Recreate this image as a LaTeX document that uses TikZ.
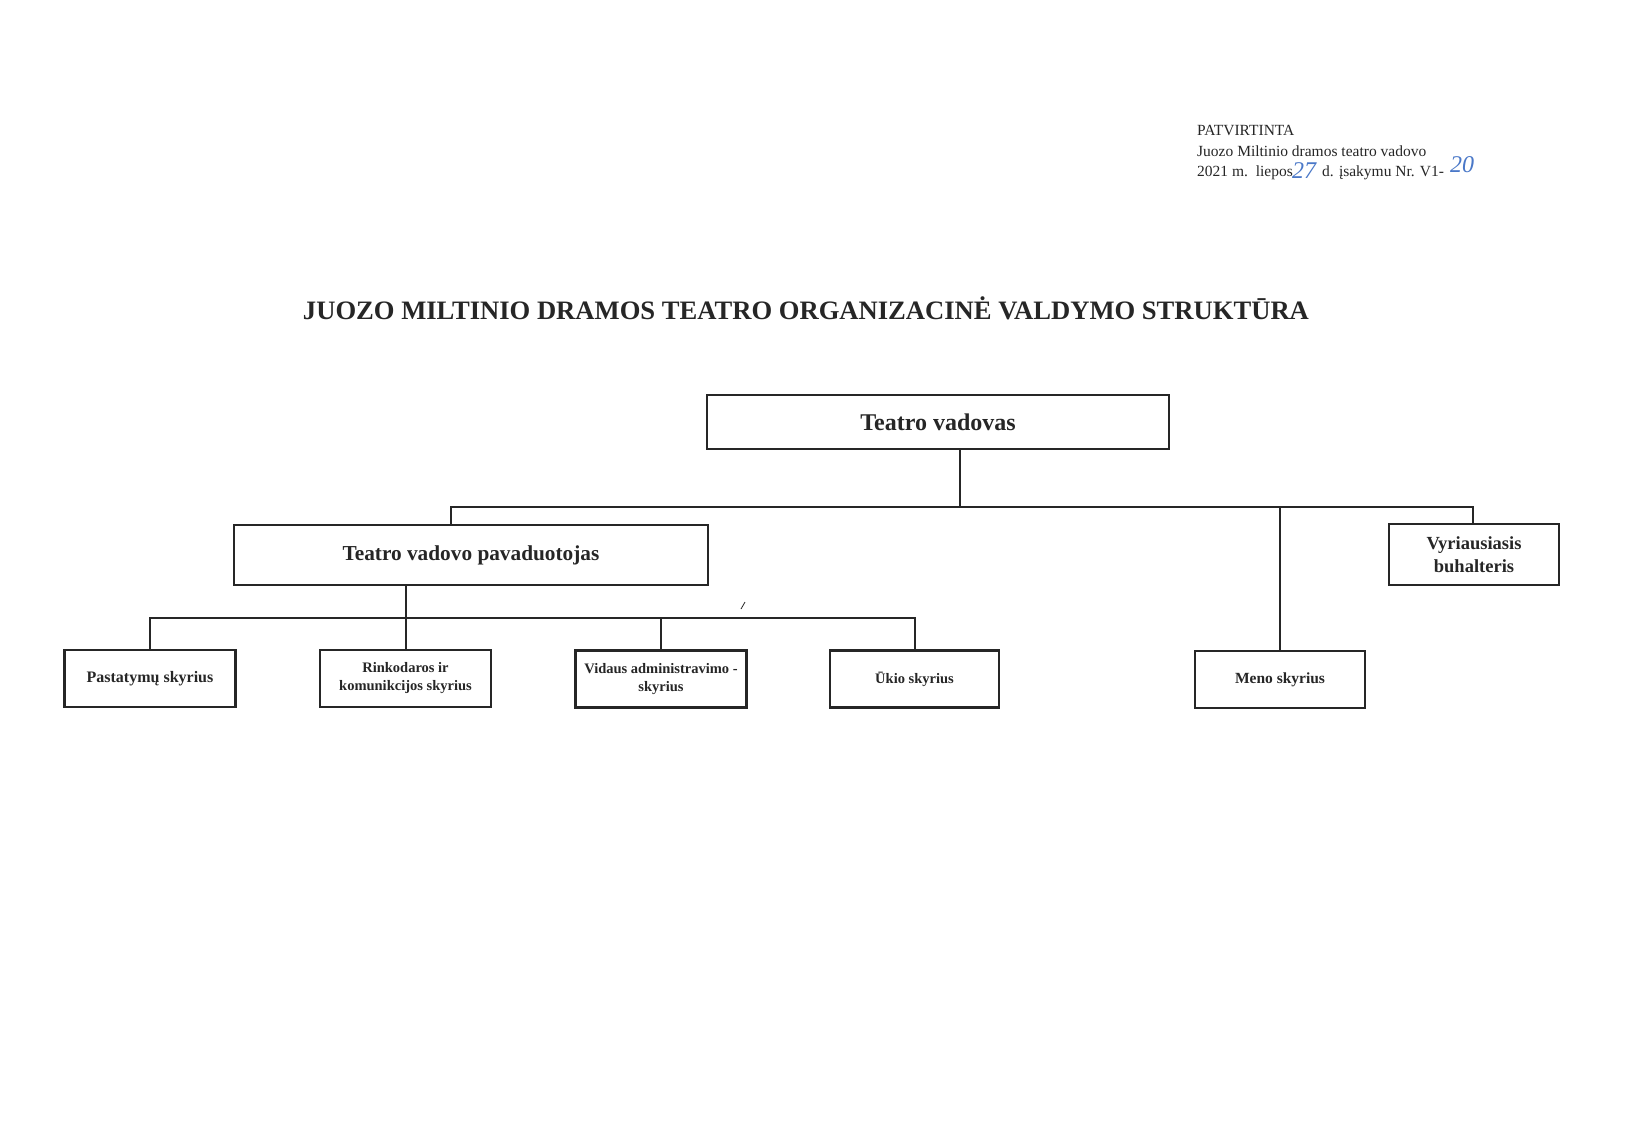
\documentclass[tikz,border=0pt]{standalone}
\usepackage{fontspec}
\setmainfont{Liberation Serif}
\definecolor{ink}{HTML}{262626}
\definecolor{penblue}{HTML}{4A78C8}
\tikzset{
  orgbox/.style={draw=ink, line width=2.8pt, fill=white, inner sep=0pt, align=center, text=ink},
  bigbox/.style={orgbox, font=\fontsize{24}{26}\selectfont\bfseries},
  midbox/.style={orgbox, font=\fontsize{18}{22}\selectfont\bfseries},
  smallbox/.style={orgbox, minimum width=171pt, minimum height=57pt, font=\fontsize{14.5}{18}\selectfont\bfseries},
  link/.style={draw=ink, line width=2pt},
  hdr/.style={anchor=base west, inner sep=0pt, font=\fontsize{15.5}{18}\selectfont, text=ink},
  hand/.style={anchor=base, inner sep=0pt, font=\fontsize{24}{24}\selectfont\itshape, text=penblue}
}
\begin{document}
\begin{tikzpicture}[x=1pt,y=-1pt]
\useasboundingbox[fill=white] (0,0) rectangle (1644,1146);

% header
\node[hdr] (hdr1) at (1197,135) {PATVIRTINTA};
\node[hdr] (hdr2) at (1197,156) {Juozo Miltinio dramos teatro vadovo};
\node[hdr] (hdr3a) at (1197,176) {2021 m.\ \ liepos};
\node[hand] (hw1) at (1304,178) {27};
\node[hdr] (hdr3b) at (1322,176) {d. įsakymu Nr. V1-};
\node[hand] (hw2) at (1462,172) {20};

% title
\node[anchor=base, inner sep=0pt, font=\fontsize{26.6}{30}\selectfont\bfseries, text=ink] (title) at (806,319.5)
  {JUOZO MILTINIO DRAMOS TEATRO ORGANIZACINĖ VALDYMO STRUKTŪRA};

% boxes
\node[bigbox, minimum width=462pt, minimum height=54pt] (vad) at (938,422) {Teatro vadovas};
\node[orgbox, minimum width=474pt, minimum height=60pt, font=\fontsize{21.3}{24}\selectfont\bfseries] (pav) at (471,555) {Teatro vadovo pavaduotojas};
\node[midbox, minimum width=170pt, minimum height=61pt, font=\fontsize{18.5}{23}\selectfont\bfseries] (vyr) at (1474,554.5) {Vyriausiasis\\buhalteris};
\node[smallbox, font=\fontsize{16}{19}\selectfont\bfseries] (past) at (150,678.5) {Pastatymų skyrius};
\node[smallbox] (rink) at (405.5,678.5) {Rinkodaros ir\\komunikcijos skyrius};
\node[smallbox] (vid) at (661,679) {Vidaus administravimo -\\skyrius};
\node[smallbox, minimum width=169pt] (ukio) at (914.5,679) {Ūkio skyrius};
\node[smallbox, minimum width=170pt, font=\fontsize{15.5}{19}\selectfont\bfseries] (meno) at (1280,679.5) {Meno skyrius};

% bus coordinates
\coordinate (j1) at (960,507);
\coordinate (b1l) at (451,507);
\coordinate (b1r) at (1473,507);
\coordinate (bus2) at (0,617.5);

% connectors
\draw[link] (vad.south -| j1) -- (j1);
\draw[link] (pav.north -| b1l) -- (b1l) -- (b1r) -- (vyr.north -| b1r);
\draw[link] (j1 -| meno.north) -- (meno.north);
\draw[link] (pav.south -| rink.north) -- (rink.north);
\draw[link] (past.north) -- (past.north |- bus2) -- (ukio.north |- bus2) -- (ukio.north);
\draw[link] (vid.north |- bus2) -- (vid.north);

% stray mark
\coordinate (s1) at (741,609);
\coordinate (s2) at (745,602);
\draw[ink, line width=0.8pt] (s1) -- (s2);
\end{tikzpicture}
\end{document}
